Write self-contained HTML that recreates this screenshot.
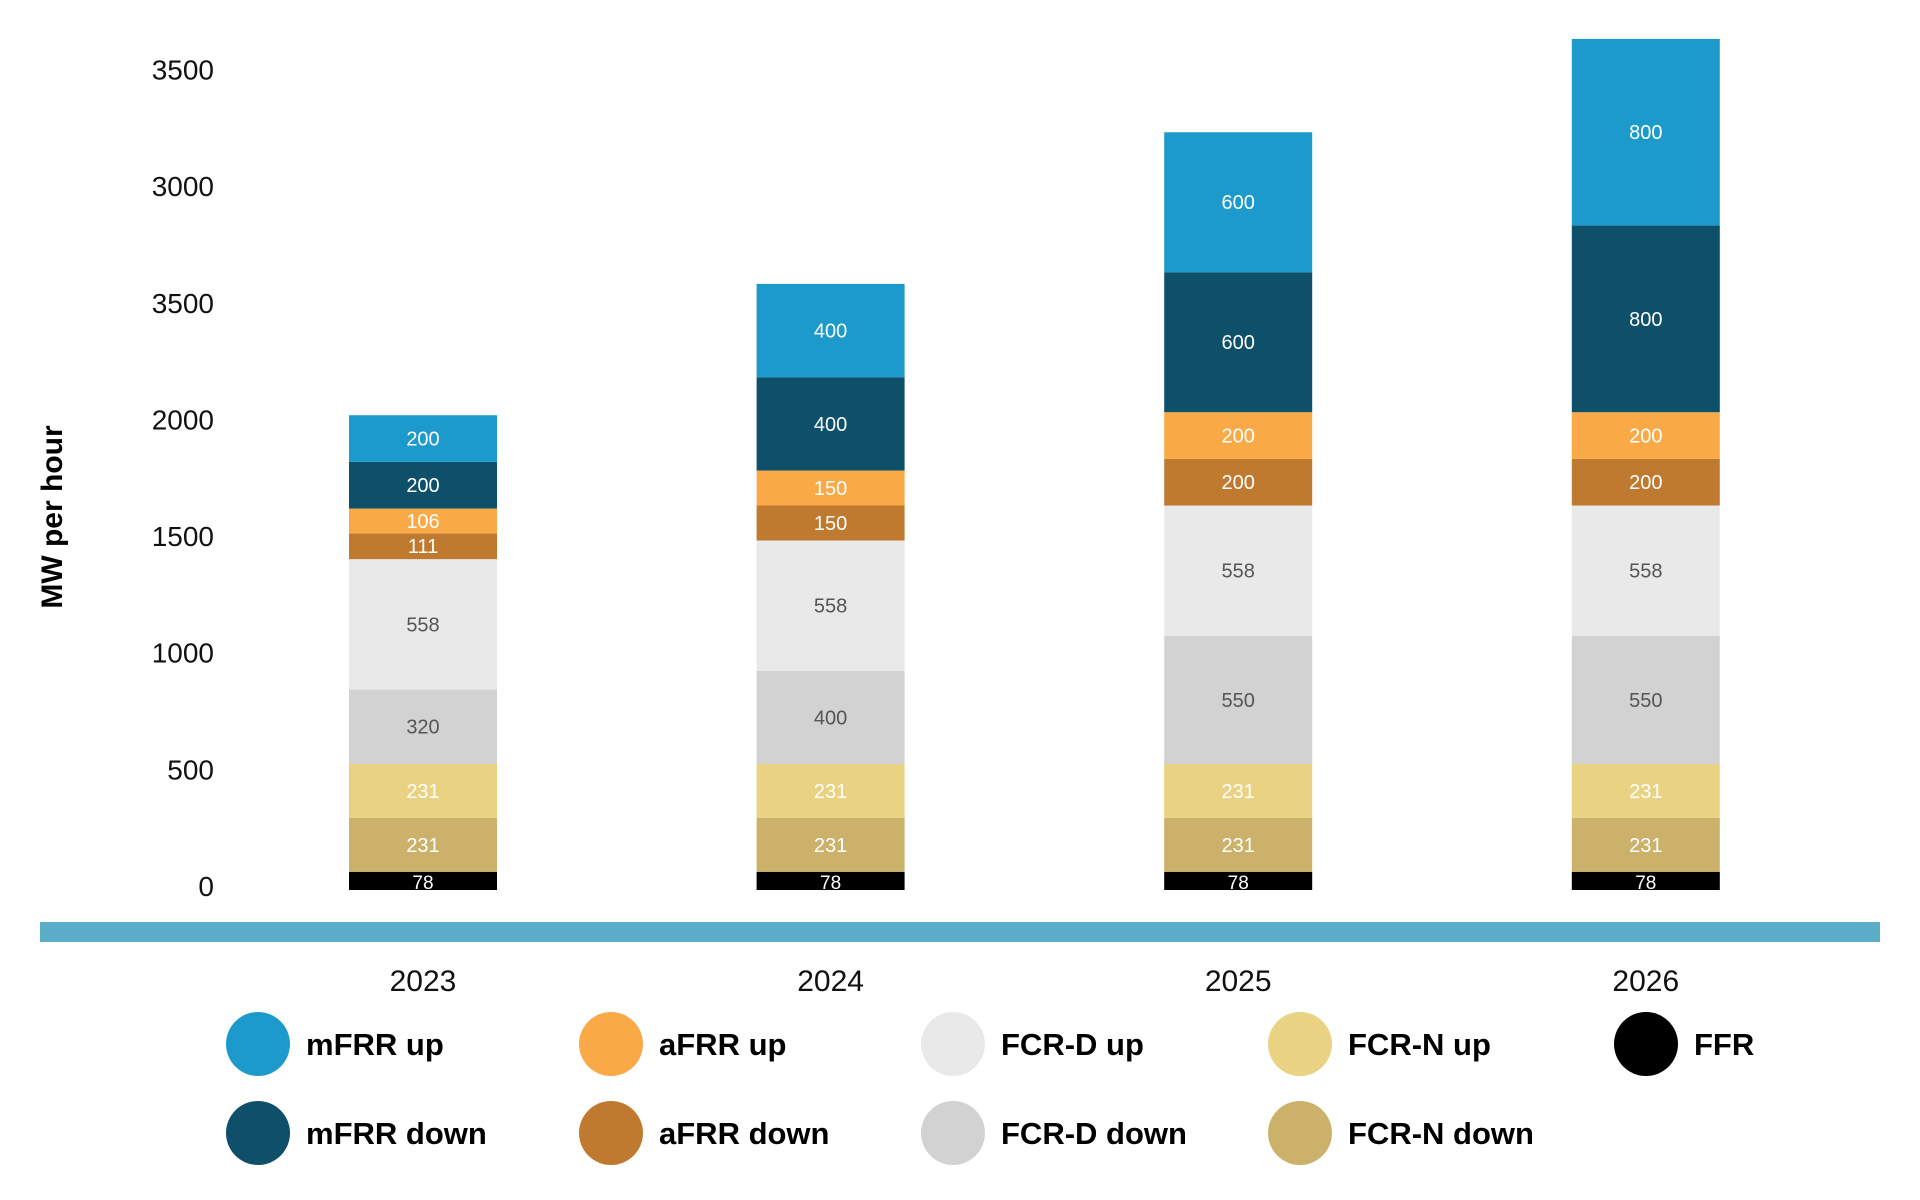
<!DOCTYPE html>
<html><head><meta charset="utf-8"><style>
html,body{margin:0;padding:0;background:#fff;}
svg{display:block;font-family:"Liberation Sans",sans-serif;}
</style></head><body>
<svg id="chart" width="1920" height="1200" viewBox="0 0 1920 1200" xmlns="http://www.w3.org/2000/svg">
<rect x="0" y="0" width="1920" height="1200" fill="#fff"/>
<text x="0" y="0" transform="translate(62,517) rotate(-90)" text-anchor="middle" font-size="30" font-weight="bold" fill="#000">MW per hour</text>
<rect x="40" y="922" width="1840" height="20" fill="#5aadc8"/>
<g id="ticks"></g>
<g id="bars"></g>
<g id="xlabels"></g>
<g id="legend"></g>
</svg>
<script>
const years = ["2023","2024","2025","2026"];
const seriesNames = ["FFR","FCR-N down","FCR-N up","FCR-D down","FCR-D up","aFRR down","aFRR up","mFRR down","mFRR up"];
const ffr = [78,78,78,78];
const fcrNDown = [231,231,231,231];
const fcrNUp = [231,231,231,231];
const fcrDDown = [320,400,550,550];
const fcrDUp = [558,558,558,558];
const afrrDown = [111,150,200,200];
const afrrUp = [106,150,200,200];
const mfrrDown = [200,400,600,800];
const mfrrUp = [200,400,600,800];
const tickValues = [0,500,1000,1500,2000,2500,3000,3500];
const tickLabels = ["0","500","1000","1500","2000","3500","3000","3500"];

const series = [ffr,fcrNDown,fcrNUp,fcrDDown,fcrDUp,afrrDown,afrrUp,mfrrDown,mfrrUp];
const colors = ["#000000","#cbb16a","#e9d282","#d2d2d2","#e9e9e9","#c07a30","#f9aa46","#0e4f69","#1c9acb"];
const labelColors = ["#fff","#fff","#fff","#555","#555","#fff","#fff","#fff","#fff"];
const NS = "http://www.w3.org/2000/svg";
const y = v => 890 - v * 0.2333;
const xCenter = i => 423 + i * 407.6;
const barW = 148;

function mk(tag, attrs, parent){
  const e = document.createElementNS(NS, tag);
  for (const k in attrs) e.setAttribute(k, attrs[k]);
  parent.appendChild(e);
  return e;
}

const ticksG = document.getElementById('ticks');
tickValues.forEach((v,i)=>{
  const t = mk('text',{x:214,y:y(v)+6,'text-anchor':'end','font-size':28,fill:'#111'},ticksG);
  
  
  t.textContent = tickLabels[i];
});

const barsG = document.getElementById('bars');
years.forEach((yr,i)=>{
  let base = 0;
  series.forEach((s,j)=>{
    const v = s[i];
    const r = mk('rect',{x:xCenter(i)-barW/2,y:y(base+v),width:barW,height:y(base)-y(base+v),fill:colors[j]},barsG);
    
    
    const ty = j===0 ? y(base)-1 : (y(base)+y(base+v))/2 + 7;
    const t = mk('text',{x:xCenter(i),y:ty,'text-anchor':'middle','font-size':j===0?19:20,fill:labelColors[j]},barsG);
    
    
    t.textContent = v;
    base += v;
  });
  const xl = mk('text',{x:xCenter(i),y:991,'text-anchor':'middle','font-size':30,fill:'#111'},document.getElementById('xlabels'));
  
  
  xl.textContent = yr;
});

const legendItems = [
  ["mFRR up","#1c9acb",0,0],["aFRR up","#f9aa46",1,0],["FCR-D up","#e9e9e9",2,0],["FCR-N up","#e9d282",3,0],["FFR","#000000",4,0],
  ["mFRR down","#0e4f69",0,1],["aFRR down","#c07a30",1,1],["FCR-D down","#d2d2d2",2,1],["FCR-N down","#cbb16a",3,1]
];
const colX = [258,611,953,1300,1646];
const rowY = [1044,1133];
const legG = document.getElementById('legend');
legendItems.forEach(([name,col,c,r])=>{
  const g = mk('g',{},legG);
  
  
  const ci = mk('circle',{cx:colX[c],cy:rowY[r],r:32,fill:col},g);
  
  
  const t = mk('text',{x:colX[c]+48,y:rowY[r]+11,'font-size':31,'font-weight':'bold',fill:'#000'},g);
  
  
  t.textContent = name;
});
</script>
</body></html>
